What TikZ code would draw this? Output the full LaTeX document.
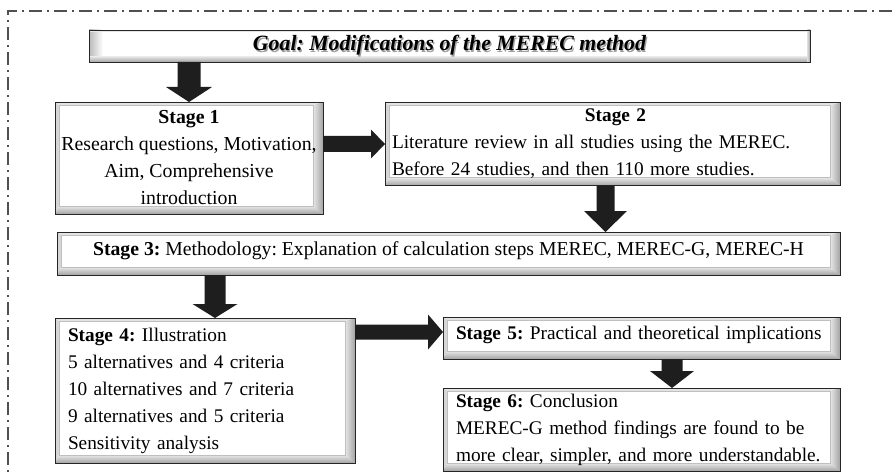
\documentclass[tikz,border=0pt]{standalone}
\usepackage{fontspec}
\setmainfont{Liberation Serif}
\usetikzlibrary{calc}
\definecolor{blk}{HTML}{1E1E1E}
\definecolor{framec}{HTML}{505050}
\newcommand\vblock[5]{%
  \fill[blk] let \p1=(#1), \p2=(#2) in
    (\x1-#3,\y1) -- (\x1+#3,\y1) -- (\x1+#3,\y2+#5) -- (\x1+#4,\y2+#5) --
    (\x1,\y2) -- (\x1-#4,\y2+#5) -- (\x1-#3,\y2+#5) -- cycle;}
\newcommand\hblock[5]{%
  \fill[blk] let \p1=(#1), \p2=(#2) in
    (\x1,\y1+#3) -- (\x2-#5,\y1+#3) -- (\x2-#5,\y1+#4) -- (\x2,\y1) --
    (\x2-#5,\y1-#4) -- (\x2-#5,\y1-#3) -- (\x1,\y1-#3) -- cycle;}
\tikzset{
  txt/.style={font=\fontsize{19.3pt}{27pt}\selectfont\frenchspacing},
  bigtxt/.style={font=\fontsize{19.8pt}{27pt}\selectfont\frenchspacing},
  bev/.style={draw=black!85, line width=0.9pt, fill=white, inner sep=0pt, outer sep=0pt, txt,
    path picture={
      \coordinate (bvsw) at (path picture bounding box.south west);
      \coordinate (bvne) at (path picture bounding box.north east);
      \coordinate (bvnw) at (path picture bounding box.north west);
      \coordinate (bvse) at (path picture bounding box.south east);
      \fill[gray!22] (bvnw) -- (bvne) -- ($(bvne)+(-10pt,-3pt)$) -- ($(bvnw)+(4pt,-3pt)$) -- cycle;
      \fill[gray!32] (bvnw) -- ($(bvnw)+(4pt,-3pt)$) -- ($(bvsw)+(4pt,8pt)$) -- (bvsw) -- cycle;
      \shade[left color=gray!18, right color=gray!72] (bvne) -- (bvse) -- ($(bvse)+(-10pt,8pt)$) -- ($(bvne)+(-10pt,-3pt)$) -- cycle;
      \shade[top color=gray!18, bottom color=gray!72] (bvsw) -- (bvse) -- ($(bvse)+(-10pt,8pt)$) -- ($(bvsw)+(4pt,8pt)$) -- cycle;
      \draw[gray!50, line width=0.4pt] ($(bvsw)+(4pt,8pt)$) rectangle ($(bvne)+(-10pt,-3pt)$);
    }},
  goalbev/.style={draw=black!85, line width=0.9pt, fill=white, inner sep=0pt, outer sep=0pt,
    path picture={
      \coordinate (gvsw) at (path picture bounding box.south west);
      \coordinate (gvne) at (path picture bounding box.north east);
      \coordinate (gvnw) at (path picture bounding box.north west);
      \coordinate (gvse) at (path picture bounding box.south east);
      \shade[left color=gray!55, right color=white] (gvnw) rectangle ($(gvsw)+(14pt,0pt)$);
      \shade[top color=gray!25, bottom color=gray!70] (gvsw) rectangle ($(gvse)+(0pt,5pt)$);
      \fill[gray!20] (gvnw) rectangle ($(gvne)+(0pt,-2pt)$);
      \shade[left color=gray!25, right color=gray!65] (gvne) rectangle ($(gvse)+(-3pt,0pt)$);
    }},
  shaded text/.style={font=\fontsize{21.8pt}{24pt}\selectfont\bfseries\itshape\frenchspacing},
  leftbox/.style={bev, align=left},
}
\begin{document}
\begin{tikzpicture}[x=1pt, y=-1pt]
\clip (0,0) rectangle (893,473);
\fill[white] (0,0) rectangle (893,473);
% outer dash-dot frame
\draw[framec, line width=1.1pt, dash pattern=on 13pt off 5pt on 2pt off 5pt] (8,490) -- (8,11) -- (910,11);

% boxes
\node[goalbev, minimum width=721pt, minimum height=32pt, shaded text] (goal) at (449.5,46)
  {\rlap{\hspace{1.3pt}\raisebox{-1.3pt}{\color{gray!75}Goal: Modifications of the MEREC method}}Goal: Modifications of the MEREC method};

\node[bev, bigtxt, align=center, minimum width=268pt, minimum height=112pt] (s1) at (189,158)
  {\textbf{Stage 1}\\Research questions, Motivation,\\Aim, Comprehensive\\introduction};

\node[leftbox, text width=441pt, minimum width=455pt, minimum height=83pt] (s2) at (612.5,144)
  {\makebox[441pt]{\hspace{6pt}\textbf{Stage 2}}\\Literature review in all studies using the MEREC.\\Before 24 studies, and then 110 more studies.};

\node[bev, font=\fontsize{19.7pt}{27pt}\selectfont\frenchspacing, minimum width=783pt, minimum height=43pt, text depth=10pt] (s3) at (448.5,253.5)
  {\textbf{Stage 3:} Methodology: Explanation of calculation steps MEREC, MEREC-G, MEREC-H};

\node[leftbox, text width=274pt, minimum width=300pt, minimum height=145pt] (s4) at (205,390.5)
  {\textbf{Stage 4:} Illustration\\5 alternatives and 4 criteria\\10 alternatives and 7 criteria\\9 alternatives and 5 criteria\\Sensitivity analysis};

\node[leftbox, text width=371pt, minimum width=397pt, minimum height=42pt, text depth=10pt] (s5) at (641.5,338)
  {\hbox{\textbf{Stage 5:} Practical and theoretical implications}};

\node[leftbox, text width=371pt, minimum width=397pt, minimum height=83pt] (s6) at (641.5,429.5)
  {\textbf{Stage 6:} Conclusion\\MEREC-G method findings are found to be\\\hbox{more clear, simpler, and more understandable.}};

% block arrows
\vblock{goal.south -| s1.north}{s1.north}{11.5pt}{23pt}{15pt}
\hblock{s1.east |- s2.west}{s2.west}{8pt}{14.5pt}{14pt}
\vblock{$(s2.south)+(-7pt,0pt)$}{s3.north}{9pt}{21.5pt}{21pt}
\vblock{$(s4.north |- s3.south)+(10pt,0pt)$}{s4.north}{10.5pt}{22.5pt}{14pt}
\hblock{$(s4.east |- s5.west)+(0pt,6pt)$}{s5.west}{7.5pt}{17.5pt}{15pt}
\vblock{$(s5.south)+(30.5pt,0pt)$}{s6.north}{10.5pt}{22pt}{17pt}
\end{tikzpicture}
\end{document}
